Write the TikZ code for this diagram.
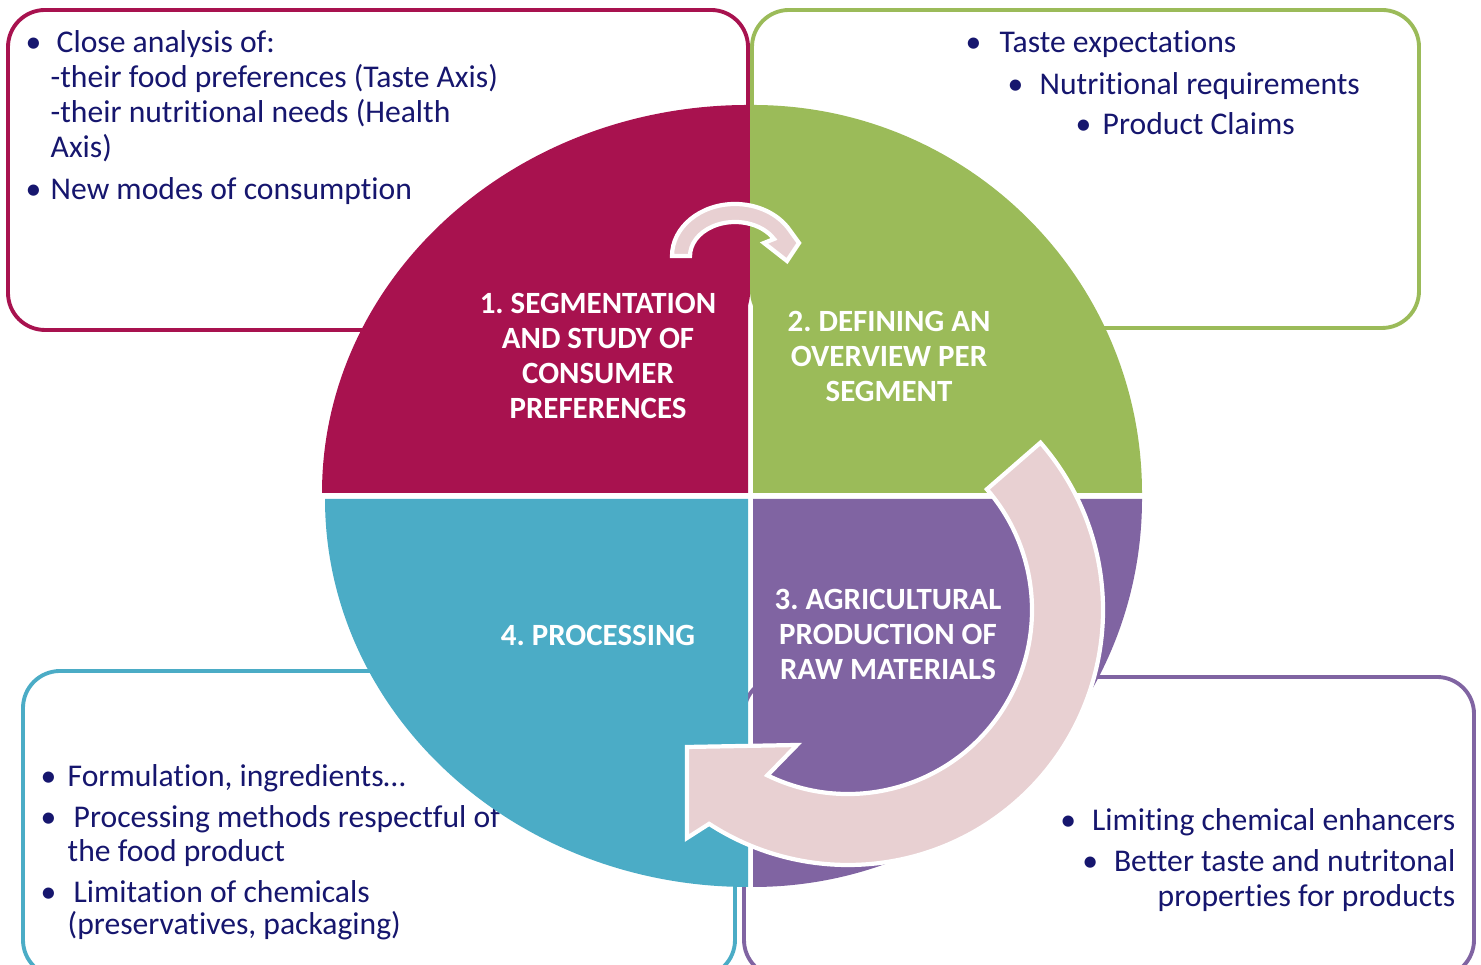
\documentclass[tikz,border=0pt]{standalone}
\usepackage{fontspec}
\setmainfont[Ligatures=NoCommon]{Carlito}
\definecolor{segred}{HTML}{A8124F}
\definecolor{defgreen}{HTML}{9BBB59}
\definecolor{agripurple}{HTML}{8064A2}
\definecolor{procblue}{HTML}{4BACC6}
\definecolor{arrowpink}{HTML}{E8D0D2}
\definecolor{notenavy}{HTML}{16166E}
\newcommand{\bul}[1]{\makebox[#1][l]{\textbullet}}
\frenchspacing

\begin{document}
\begin{tikzpicture}[
  infobox/.style={draw=#1, line width=1.1pt, fill=white, rounded corners=0.37cm},
  note/.style={anchor=base west, inner sep=0pt, text=notenavy, font=\fontsize{9}{11}\selectfont},
  noteright/.style={note, anchor=base east},
  steplabel/.style={align=center, text=white, font=\fontsize{8.8}{9.96}\selectfont\bfseries},
  cyclearrow/.style={fill=arrowpink, draw=white, line width=1.2pt}
]
\useasboundingbox (0,0) rectangle (14.81,9.65);

	\draw[infobox=segred] (0.08,9.55) rectangle (7.48,6.35);
	\draw[infobox=defgreen] (7.52,9.55) rectangle (14.19,6.37);
	\draw[infobox=procblue] (0.23,2.94) rectangle (7.35,-0.12);
	\draw[infobox=agripurple] (7.44,2.88) rectangle (14.74,-0.12);

	\node[note] (tl1) at (0.25,9.12) {\bul{0.31cm}Close analysis of:};
	\node[note] (tl2) at (0.50,8.77) {-their food preferences (Taste Axis)};
	\node[note] (tl3) at (0.50,8.42) {-their nutritional needs (Health};
	\node[note] (tl4) at (0.50,8.07) {Axis)};
	\node[note] (tl5) at (0.25,7.65) {\bul{0.25cm}New modes of consumption};

	\node[note] (tr1) at (9.65,9.12) {\bul{0.34cm}Taste expectations};
	\node[note] (tr2) at (10.07,8.70) {\bul{0.32cm}Nutritional requirements};
	\node[note] (tr3) at (10.75,8.30) {\bul{0.27cm}Product Claims};

	\node[note] (bl1) at (0.40,1.78) {\bul{0.27cm}Formulation, ingredients\ldots};
	\node[note] (bl2) at (0.40,1.37) {\bul{0.33cm}Processing methods respectful of};
	\node[note] (bl3) at (0.67,1.03) {the food product};
	\node[note] (bl4) at (0.40,0.62) {\bul{0.33cm}Limitation of chemicals};
	\node[note] (bl5) at (0.67,0.30) {(preservatives, packaging)};

	\node[noteright] (br1) at (14.56,1.34) {\textbullet\hspace{0.16cm}Limiting chemical enhancers};
	\node[noteright] (br2) at (14.56,0.93) {\textbullet\hspace{0.16cm}Better taste and nutritonal};
	\node[noteright] (br3) at (14.56,0.58) {properties for products};

	\fill[segred] (7.48,4.72) -- (7.48,8.60) arc[start angle=90, end angle=180, x radius=4.26, y radius=3.88] -- cycle;
	\fill[defgreen] (7.53,4.72) -- (11.42,4.72) arc[start angle=0, end angle=90, x radius=3.89, y radius=3.88] -- cycle;
	\fill[procblue] (7.48,4.66) -- (3.25,4.66) arc[start angle=180, end angle=270, x radius=4.23, y radius=3.88] -- cycle;
	\fill[agripurple] (7.53,4.66) -- (7.53,0.78) arc[start angle=270, end angle=360, x radius=3.89, y radius=3.88] -- cycle;

	\begin{scope}[shift={(7.35,7.09)}]
	\draw[cyclearrow] (180:0.63 and 0.52) arc[start angle=180, end angle=30, x radius=0.63, y radius=0.52]
	  -- (0.64,0.13) -- (0.52,-0.05) -- (0.29,0.13) -- (30:0.45 and 0.34)
	  arc[start angle=30, end angle=180, x radius=0.45, y radius=0.34] -- cycle;
	\end{scope}

	\begin{scope}[shift={(8.48,3.55)}]
	\draw[cyclearrow] (41:2.55) arc[start angle=41, end angle=-123, radius=2.55]
	  -- (-1.61,-2.28) -- (-1.61,-1.37) -- (-0.51,-1.35) -- (-116:1.84)
	  arc[start angle=-116, end angle=41, radius=1.84] -- cycle;
	\end{scope}

	\node[steplabel] (seg) at (5.98,6.09) {1. SEGMENTATION\\AND STUDY OF\\CONSUMER\\PREFERENCES};
	\node[steplabel] (def) at (8.89,6.09) {2. DEFINING AN\\OVERVIEW PER\\SEGMENT};
	\node[steplabel] (agri) at (8.88,3.31) {3. AGRICULTURAL\\PRODUCTION OF\\RAW MATERIALS};
	\node[steplabel] (proc) at (5.98,3.30) {4. PROCESSING};
\end{tikzpicture}
\end{document}
